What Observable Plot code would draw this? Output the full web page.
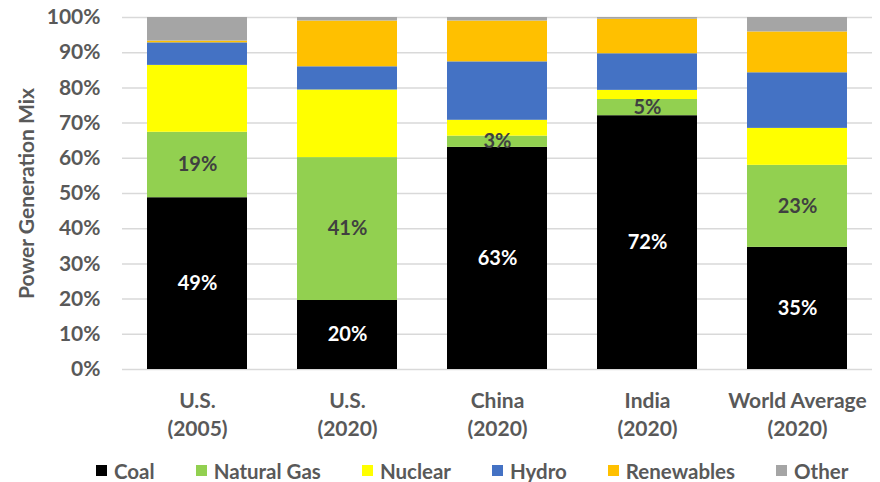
<!DOCTYPE html>
<html>
<head>
<meta charset="utf-8">
<script src="https://cdn.jsdelivr.net/npm/d3@7"></script>
<script src="https://cdn.jsdelivr.net/npm/@observablehq/plot@0.6"></script>
<style>
  body { margin: 0; background: #fff; font-family: Lato, "Open Sans", sans-serif; }
  #chart svg { display: block; }
  #legend { display: flex; align-items: center; height: 27px; padding-left: 96px; gap: 41px;
            font: bold 20.5px Lato, sans-serif; color: #595959; margin-top: 4px; }
  #legend .item { display: flex; align-items: center; gap: 7px; }
  #legend .sw { width: 11px; height: 11px; display: inline-block; }
</style>
</head>
<body>
<div id="chart"></div>
<div id="legend"></div>
<script>
const categories = ["U.S.\n(2005)", "U.S.\n(2020)", "China\n(2020)", "India\n(2020)", "World Average\n(2020)"];
const sources = ["Coal", "Natural Gas", "Nuclear", "Hydro", "Renewables", "Other"];
const colors = ["#000000", "#92D050", "#FFFF00", "#4472C4", "#FFC000", "#A5A5A5"];
const coal = [48.8, 19.6, 63.1, 72.1, 34.7];
const naturalGas = [18.6, 40.6, 3.2, 4.6, 23.3];
const nuclear = [19.0, 19.2, 4.5, 2.6, 10.5];
const hydro = [6.4, 6.6, 16.6, 10.4, 15.8];
const renewables = [0.5, 13.0, 11.6, 9.8, 11.6];
const other = [6.7, 1.0, 1.0, 0.5, 4.1];
const yTicks = [0, 10, 20, 30, 40, 50, 60, 70, 80, 90, 100];
const labeled = ["Coal", "Natural Gas"];

const seriesValues = [coal, naturalGas, nuclear, hydro, renewables, other];
const data = [];
categories.forEach((c, i) => {
  sources.forEach((s, j) => {
    data.push({category: c, source: s, value: seriesValues[j][i]});
  });
});

const textColor = "#595959";
const chart = Plot.plot({
  width: 880,
  height: 453,
  marginTop: 17,
  marginBottom: 84,
  marginLeft: 122,
  marginRight: 8,
  style: {fontFamily: "Lato, sans-serif", fontWeight: "bold", fontSize: "20px", color: textColor, background: "#fff"},
  x: {domain: categories, paddingInner: 1/3, paddingOuter: 1/6, label: null},
  y: {domain: [0, 100], label: null},
  color: {domain: sources, range: colors},
  marks: [
    Plot.gridY(yTicks, {stroke: "#D9D9D9", strokeOpacity: 1, strokeWidth: 1.5}),
    Plot.barY(data, Plot.stackY({x: "category", y: "value", fill: "source", order: sources})),
    Plot.text(data, Plot.stackY({
      x: "category", y: "value", z: "source", order: sources,
      text: d => labeled.includes(d.source) ? Math.round(d.value) + "%" : "",
      fill: d => d.source === "Coal" ? "#FFFFFF" : "#404040",
      fontSize: 20, fontWeight: "bold"
    })),
    Plot.axisY({ticks: yTicks, tickFormat: d => d + "%", tickSize: 0, tickPadding: 22, fontSize: 21, fill: textColor, label: null}),
    Plot.axisX({tickSize: 0, tickPadding: 19, lineHeight: 1.33, fontSize: 21, fill: textColor, label: null}),
    Plot.text(["Power Generation Mix"], {frameAnchor: "left", dx: -95, rotate: -90, textAnchor: "middle", fontSize: 21, fill: textColor, fontWeight: "bold"})
  ]
});
document.getElementById("chart").append(chart);

const legend = document.getElementById("legend");
sources.forEach((s, i) => {
  const item = document.createElement("div");
  item.className = "item";
  const sw = document.createElement("span");
  sw.className = "sw";
  sw.style.background = colors[i];
  const t = document.createElement("span");
  t.textContent = s;
  item.append(sw, t);
  legend.append(item);
});
</script>
</body>
</html>
